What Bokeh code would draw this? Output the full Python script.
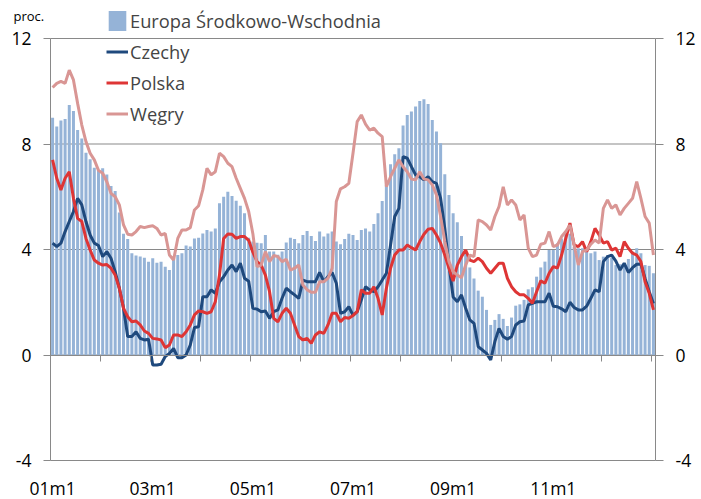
from bokeh.plotting import figure
from bokeh.models import (ColumnDataSource, FixedTicker, LinearAxis, Range1d,
                          Legend, LegendItem, Label)
from bokeh.embed import file_html
from bokeh.resources import INLINE

# ---- data (monthly, 2001m1 .. 2013m1) ----
europa = [9.0, 8.66, 8.89, 8.95, 9.48, 9.25, 8.53, 8.21, 7.67, 7.42, 7.1, 7.0,
          7.08, 6.84, 6.41, 6.22, 5.4, 4.6, 4.4, 3.86, 3.77, 3.73, 3.69, 3.54,
          3.67, 3.5, 3.54, 3.35, 3.22, 3.6, 3.79, 3.86, 4.15, 4.11, 4.42, 4.45,
          4.61, 4.74, 4.68, 4.8, 5.75, 6.0, 6.19, 6.03, 5.85, 5.66, 5.37, 4.45,
          4.3, 4.26, 4.24, 4.55, 3.92, 3.92, 3.8, 3.92, 4.27, 4.45, 4.4, 4.24,
          4.55, 4.7, 4.51, 4.32, 4.68, 4.49, 4.61, 4.68, 4.3, 4.2, 4.4, 4.6,
          4.55, 4.36, 4.74, 4.8, 4.68, 4.97, 5.37, 5.84, 6.45, 7.23, 7.61, 7.84,
          8.7, 9.1, 9.23, 9.42, 9.63, 9.7, 9.52, 8.91, 8.47, 8.03, 6.85, 6.07,
          5.37, 5.03, 4.51, 3.9, 3.32, 2.9, 2.44, 2.21, 1.71, 1.14, 1.33, 1.55,
          1.37, 1.1, 1.42, 1.87, 1.92, 2.09, 2.49, 2.57, 2.97, 3.32, 3.54, 3.98,
          3.98, 4.24, 4.42, 4.68, 4.6, 4.1, 4.05, 4.05, 3.92, 3.86, 3.92, 3.6,
          3.73, 3.79, 3.69, 3.41, 3.44, 3.41, 3.64, 3.92, 4.05, 3.86, 3.41, 3.38,
          3.1]

czechy = [4.24, 4.11, 4.24, 4.68, 5.06, 5.44, 5.94, 5.69, 5.06, 4.55, 4.24, 4.15,
          3.73, 3.92, 3.67, 3.16, 2.53, 1.77, 0.7, 0.7, 0.88, 0.63, 0.57, 0.6,
          -0.38, -0.38, -0.35, -0.06, 0.06, 0.25, -0.1, -0.1, 0.0, 0.38, 1.04, 1.07,
          2.21, 2.21, 2.47, 2.34, 2.78, 2.97, 3.22, 3.41, 3.16, 3.48, 2.91, 2.8,
          1.77, 1.74, 1.64, 1.67, 1.39, 1.64, 1.71, 2.15, 2.53, 2.4, 2.28, 2.15,
          2.84, 2.78, 2.78, 2.78, 3.13, 2.78, 2.97, 3.13, 2.72, 1.58, 1.64, 1.83,
          1.5, 1.64, 2.09, 2.59, 2.47, 2.4, 2.59, 2.84, 3.1, 4.17, 5.25, 5.56,
          7.52, 7.46, 7.14, 6.83, 6.76, 6.64, 6.76, 6.57, 6.51, 5.94, 4.8, 3.4,
          2.2, 2.02, 2.28, 1.77, 1.33, 1.2, 0.32, 0.19, 0.06, -0.19, 0.51, 1.01,
          0.7, 0.6, 0.7, 1.14, 1.26, 1.29, 1.9, 1.96, 2.02, 2.02, 2.02, 2.34,
          1.85, 1.83, 1.75, 1.64, 2.0, 1.8, 1.71, 1.71, 1.85, 2.15, 2.47, 2.4,
          3.54, 3.73, 3.79, 3.56, 3.22, 3.48, 3.13, 3.31, 3.44, 3.45, 2.9, 2.4,
          1.95]

polska = [7.4, 6.7, 6.26, 6.7, 6.95, 5.94, 5.18, 5.06, 4.42, 3.98, 3.6, 3.48,
          3.41, 3.43, 3.29, 3.03, 2.53, 1.77, 1.45, 1.26, 1.29, 1.14, 0.91, 0.82,
          0.63, 0.61, 0.57, 0.28, 0.38, 0.76, 0.76, 0.7, 0.88, 1.14, 1.52, 1.67,
          1.64, 1.58, 1.64, 2.02, 3.03, 4.42, 4.59, 4.58, 4.42, 4.49, 4.49, 4.35,
          3.9, 3.54, 3.41, 3.03, 2.4, 1.39, 1.26, 1.58, 1.77, 1.58, 1.14, 0.7,
          0.57, 0.63, 0.44, 0.76, 0.88, 0.82, 1.14, 1.58, 1.58, 1.26, 1.42, 1.39,
          1.5, 1.64, 2.47, 2.34, 2.34, 2.59, 2.15, 1.52, 2.53, 3.29, 3.79, 3.98,
          3.98, 4.17, 4.07, 3.98, 4.3, 4.58, 4.77, 4.8, 4.55, 4.24, 3.79, 3.29,
          2.8, 3.41, 3.73, 3.98, 3.6, 3.54, 3.67, 3.54, 3.29, 3.1, 3.29, 3.48,
          3.48, 2.91, 2.59, 2.4, 2.28, 2.28, 2.15, 1.96, 2.4, 2.81, 2.72, 3.1,
          3.35, 3.3, 3.79, 4.42, 5.0, 4.17, 4.11, 4.3, 3.92, 4.3, 4.8, 4.55,
          4.24, 4.3, 3.98, 4.05, 3.73, 4.3, 4.05, 3.86, 3.79, 3.54, 2.78, 2.34,
          1.71]

wegry = [10.14, 10.3, 10.37, 10.3, 10.8, 10.43, 9.54, 8.72, 8.09, 7.65, 7.4, 7.0,
         6.89, 6.57, 6.13, 6.0, 5.69, 4.93, 4.58, 4.55, 4.68, 4.87, 4.83, 4.87,
         4.9, 4.8, 4.55, 4.61, 3.79, 3.6, 4.42, 4.74, 4.74, 4.83, 5.5, 5.66,
         6.26, 7.08, 6.83, 6.95, 7.65, 7.52, 7.27, 7.14, 6.7, 6.32, 5.94, 5.44,
         4.6, 3.35, 3.41, 3.92, 3.54, 3.77, 3.73, 3.54, 3.63, 3.22, 3.29, 3.41,
         2.65, 2.47, 2.38, 2.38, 2.78, 2.78, 2.91, 3.29, 5.82, 6.3, 6.38, 6.51,
         7.65, 8.85, 9.1, 8.75, 8.53, 8.6, 8.41, 8.28, 6.38, 6.76, 7.08, 7.4,
         7.14, 6.95, 6.67, 6.64, 6.95, 6.67, 6.64, 6.45, 6.07, 5.25, 4.3, 3.54,
         3.16, 3.03, 2.93, 3.41, 3.79, 3.73, 5.12, 5.06, 4.93, 4.74, 5.25, 5.63,
         6.38, 5.69, 5.88, 5.69, 5.12, 5.31, 4.05, 3.73, 3.79, 4.2, 4.24, 4.68,
         4.11, 4.17, 4.49, 4.68, 4.93, 4.17, 3.41, 3.92, 3.98, 4.2, 4.36, 4.24,
         5.56, 5.88, 5.56, 5.69, 5.31, 5.56, 5.75, 5.94, 6.57, 5.94, 5.25, 5.0,
         3.79]

x_tick_labels = ["01m1", "03m1", "05m1", "07m1", "09m1", "11m1"]
y_ticks = [-4, 0, 4, 8, 12]
y_tick_labels = ["-4", "0", "4", "8", "12"]
series_names = ["Europa Środkowo-Wschodnia", "Czechy", "Polska", "Węgry"]

# ---- styles / layout (pixels) ----
FONT = "Open Sans"
GRAY = "#898989"
C_BAR = "#95B3D7"
C_CZ = "#1F497D"
C_PL = "#DE3535"
C_HU = "#D99694"
TICK_FS = "17.5px"
W, H = 700, 498
PLOT_L, PLOT_R, PLOT_T, PLOT_B = 50, 655, 38, 460

n = len(europa)
months = list(range(n))
src = ColumnDataSource(dict(x=months, eu=europa, cz=czechy, pl=polska, hu=wegry))

# the frame covers the whole canvas; the plotting area is placed via the ranges
x_lo, x_hi = -0.5, n - 0.5
y_lo, y_hi = y_ticks[0], y_ticks[-1]
px_per_x = (PLOT_R - PLOT_L) / (x_hi - x_lo)
px_per_y = (PLOT_B - PLOT_T) / (y_hi - y_lo)
xr = Range1d(x_lo - PLOT_L / px_per_x, x_hi + (W - PLOT_R) / px_per_x)
yr_ = Range1d(y_lo - (H - PLOT_B) / px_per_y, y_hi + PLOT_T / px_per_y)

p = figure(width=W, height=H, x_range=xr, y_range=yr_,
           x_axis_location=None, y_axis_location=None,
           output_backend="svg", toolbar_location=None,
           min_border=0, min_border_left=0, min_border_right=0,
           min_border_top=0, min_border_bottom=0)
p.outline_line_color = None
p.background_fill_color = "white"
p.border_fill_color = "white"
p.grid.visible = False

# horizontal grid lines across the plotting area
p.segment(x0=[x_lo] * len(y_ticks), x1=[x_hi] * len(y_ticks), y0=y_ticks, y1=y_ticks,
          line_color=GRAY, line_width=1)

bars = p.vbar(x="x", top="eu", bottom=0, width=0.72, source=src,
              fill_color=C_BAR, line_color=None)
l_cz = p.line("x", "cz", source=src, line_color=C_CZ, line_width=3)
l_pl = p.line("x", "pl", source=src, line_color=C_PL, line_width=3)
l_hu = p.line("x", "hu", source=src, line_color=C_HU, line_width=3)

# category axis crossing at zero, ticks every 12 months
year_bounds = [i - 0.5 for i in range(0, n, 12)]
cat_ax = LinearAxis(fixed_location=0, ticker=FixedTicker(ticks=year_bounds),
                    bounds=(x_lo, x_hi))
cat_ax.major_label_overrides = {t: "" for t in year_bounds}
cat_ax.major_label_text_font_size = "1px"
cat_ax.axis_line_color = GRAY
cat_ax.major_tick_line_color = GRAY
cat_ax.minor_tick_line_color = None
cat_ax.major_tick_out = 6
cat_ax.major_tick_in = 0
p.add_layout(cat_ax, "below")

# labels of the category axis at the bottom of the plot
label_pos = [i for i in range(0, n - 1, 24)]
lab_ax = LinearAxis(fixed_location=y_lo, ticker=FixedTicker(ticks=label_pos))
lab_ax.major_label_overrides = {pos: lab for pos, lab in zip(label_pos, x_tick_labels)}
lab_ax.axis_line_color = None
lab_ax.major_tick_line_color = None
lab_ax.minor_tick_line_color = None
lab_ax.major_tick_out = 0
lab_ax.major_tick_in = 0
lab_ax.major_label_standoff = 15
lab_ax.major_label_text_font = FONT
lab_ax.major_label_text_font_size = TICK_FS
lab_ax.major_label_text_color = "black"
p.add_layout(lab_ax, "below")

y_over = {t: lab for t, lab in zip(y_ticks, y_tick_labels)}


def make_y(loc, tick_out, standoff):
    ax = LinearAxis(fixed_location=loc, ticker=FixedTicker(ticks=y_ticks),
                    bounds=(y_lo, y_hi))
    ax.major_label_overrides = y_over
    ax.axis_line_color = GRAY
    ax.major_tick_line_color = GRAY
    ax.minor_tick_line_color = None
    ax.major_tick_out = tick_out
    ax.major_tick_in = 0
    ax.major_label_standoff = standoff
    ax.major_label_text_font = FONT
    ax.major_label_text_font_size = TICK_FS
    ax.major_label_text_color = "black"
    return ax


p.add_layout(make_y(x_lo, 7, 12), "left")
p.add_layout(make_y(x_hi, 8, 12), "right")

legend = Legend(items=[LegendItem(label=series_names[0], renderers=[bars]),
                       LegendItem(label=series_names[1], renderers=[l_cz]),
                       LegendItem(label=series_names[2], renderers=[l_pl]),
                       LegendItem(label=series_names[3], renderers=[l_hu])],
                location=(106, H - 126), orientation="vertical",
                padding=0, margin=0, spacing=6,
                glyph_width=22, glyph_height=25, label_height=25,
                label_standoff=2,
                label_text_font=FONT, label_text_font_size="18.3px",
                border_line_alpha=0, background_fill_alpha=0)
p.add_layout(legend)

p.add_layout(Label(x=13, y=H - 15, x_units="screen", y_units="screen",
                   text="proc.", text_font=FONT, text_font_size="13px",
                   text_baseline="alphabetic", text_color="black"))

open("out.html", "w").write(file_html(p, INLINE))
